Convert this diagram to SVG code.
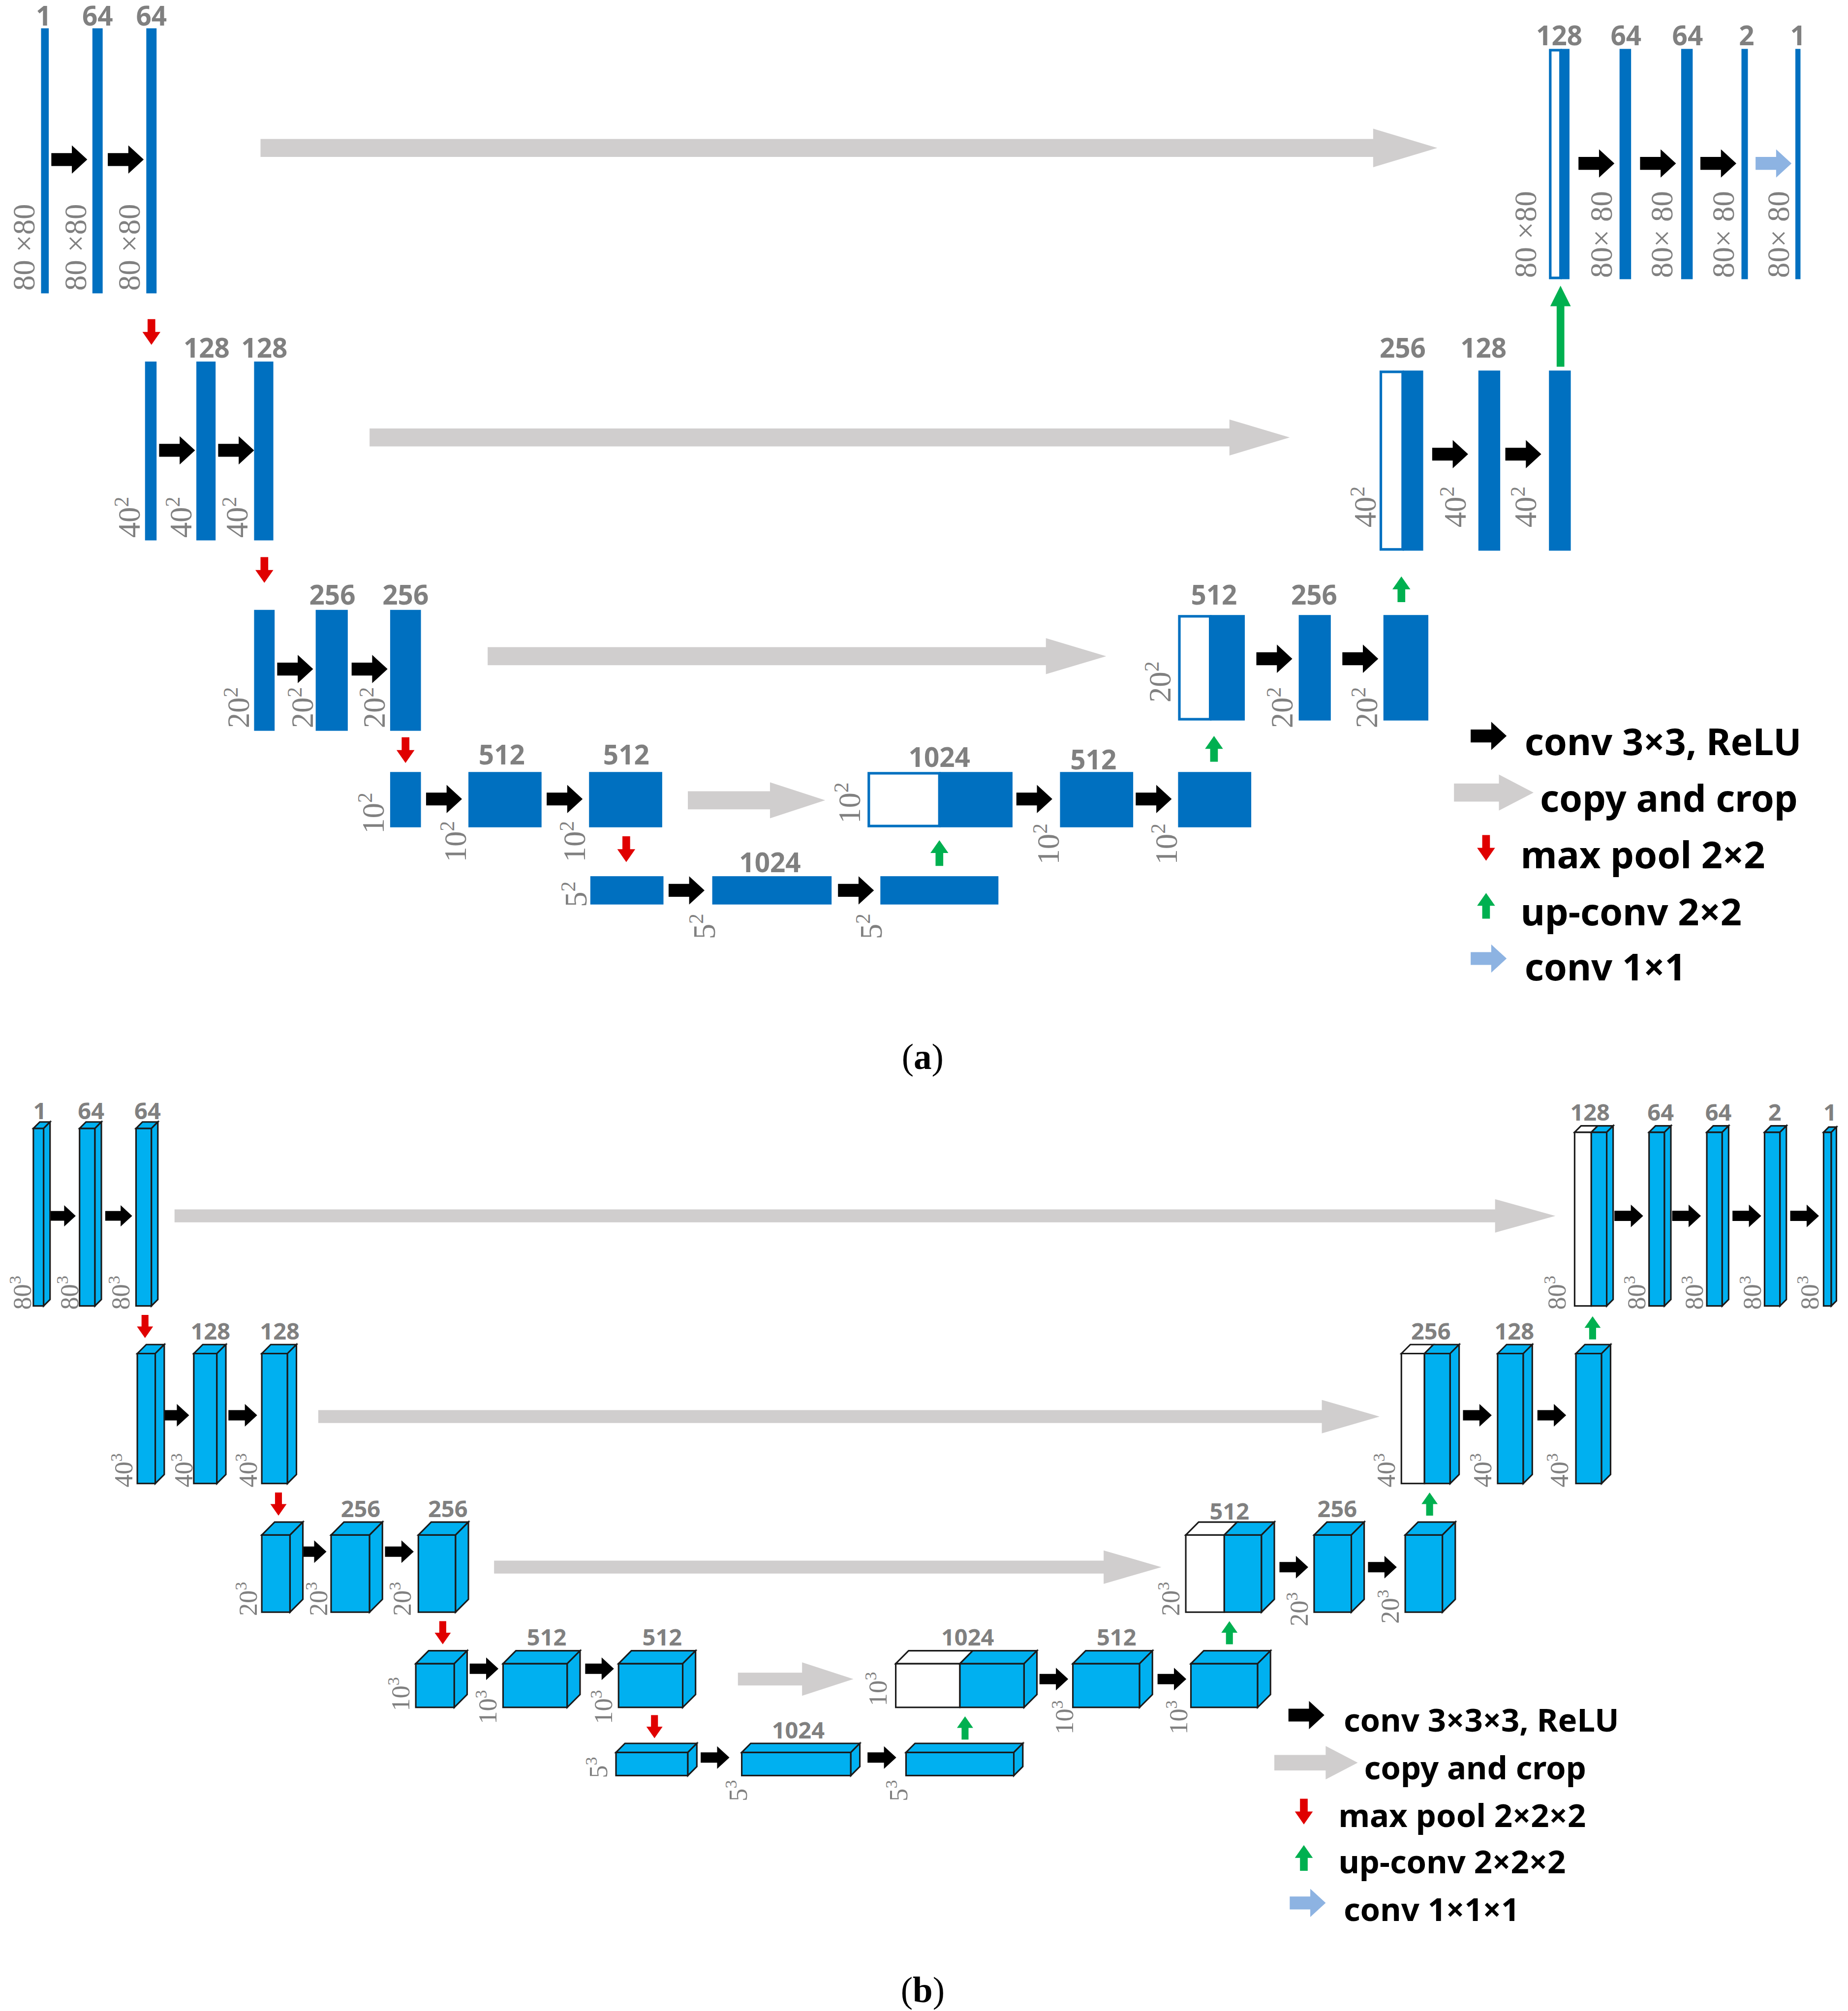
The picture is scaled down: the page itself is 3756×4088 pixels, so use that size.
<svg xmlns="http://www.w3.org/2000/svg" xmlns:xlink="http://www.w3.org/1999/xlink" width="3756" height="4088" viewBox="0 0 3756 4088">
<style>
.a{fill:#0070c0}
.w{fill:#fff;stroke:#0070c0;stroke-width:2}
.n{font-family:"Noto Sans","DejaVu Sans",sans-serif;font-weight:bold;fill:#808080;font-size:21px;text-anchor:middle}
.nb{font-family:"Noto Sans","DejaVu Sans",sans-serif;font-weight:bold;fill:#808080;font-size:18px;text-anchor:middle}
.r{font-family:"Liberation Serif",serif;fill:#808080;font-size:24px}
.rb{font-family:"Liberation Serif",serif;fill:#808080;font-size:20px}
.lg{font-family:"Noto Sans","DejaVu Sans",sans-serif;font-weight:bold;fill:#000;font-size:29px}
.lgb{font-family:"Noto Sans","DejaVu Sans",sans-serif;font-weight:bold;fill:#000;font-size:25px}
.cap{font-family:"Liberation Serif",serif;font-size:28px;fill:#000;text-anchor:middle}
.cp{fill:#d0cece}
.bx path,.bx rect{stroke:#1a1a1a;stroke-width:1.2}
.bf{fill:#00b0f0}
.wf{fill:#fff}
</style>
<defs>
<path id="ba" d="M0,-5H16V-11L28,0L16,11V5H0Z" fill="#000"/>
<path id="la" d="M0,-5H16V-11L28,0L16,11V5H0Z" fill="#8db3e2"/>
<path id="rd" d="M-3,0H3V10H7L0,20L-7,10H-3Z" fill="#e00000"/>
<path id="gu" d="M-3,0H3V-10H7L0,-20L-7,-10H-3Z" fill="#00b050"/>
</defs>
<rect width="3756" height="4088" fill="#fff"/>
<g transform="scale(2.6083,2.6155)">
<g id="connectors">
<path class="cp" d="M203,108H1070V100L1120,115L1070,130V122H203Z"/>
<path class="cp" d="M288,333H958V326L1005,340L958,354V347H288Z"/>
<path class="cp" d="M380,503H815V496L862,510L815,524V517H380Z"/>
<path class="cp" d="M536,615H600V608L643,622L600,636V629H536Z"/>
<use href="#ba" x="40" y="124"/><use href="#ba" x="84" y="124"/>
<use href="#ba" x="124" y="350"/><use href="#ba" x="170" y="350"/>
<use href="#ba" x="216" y="520"/><use href="#ba" x="274" y="520"/>
<use href="#ba" x="332" y="621"/><use href="#ba" x="426" y="621"/>
<use href="#ba" x="521" y="692"/><use href="#ba" x="653" y="692"/>
<use href="#ba" x="792" y="621"/><use href="#ba" x="885" y="621"/>
<use href="#ba" x="979" y="512"/><use href="#ba" x="1046" y="512"/>
<use href="#ba" x="1116" y="353"/><use href="#ba" x="1173" y="353"/>
<use href="#ba" x="1230" y="127"/><use href="#ba" x="1278" y="127"/><use href="#ba" x="1325" y="127"/>
<use href="#la" x="1368" y="127"/>
<use href="#rd" x="118" y="248"/><use href="#rd" x="206" y="433"/><use href="#rd" x="316" y="573"/><use href="#rd" x="488" y="650"/>
<use href="#gu" x="732" y="673"/><use href="#gu" x="946" y="592"/><use href="#gu" x="1092" y="468"/>
<path d="M1213,285H1219V238H1224L1216,222L1208,238H1213Z" fill="#00b050"/>
<path class="cp" d="M136,940H1165V932L1212,945L1165,958V950H136Z"/>
<path class="cp" d="M248,1096H1030V1088L1075,1101L1030,1114V1106H248Z"/>
<path class="cp" d="M385,1213H860V1205L905,1218L860,1231V1223H385Z"/>
<path class="cp" d="M575,1300H625V1292L665,1305L625,1318V1310H575Z"/>
<g transform="translate(38,945) scale(0.75)"><use href="#ba"/></g>
<g transform="translate(82,945) scale(0.75)"><use href="#ba"/></g>
<g transform="translate(125,1100) scale(0.8)"><use href="#ba"/></g>
<g transform="translate(178,1100) scale(0.8)"><use href="#ba"/></g>
<g transform="translate(232,1206) scale(0.8)"><use href="#ba"/></g>
<g transform="translate(300,1206) scale(0.8)"><use href="#ba"/></g>
<g transform="translate(366,1297) scale(0.8)"><use href="#ba"/></g>
<g transform="translate(456,1297) scale(0.8)"><use href="#ba"/></g>
<g transform="translate(546,1366) scale(0.8)"><use href="#ba"/></g>
<g transform="translate(676,1366) scale(0.8)"><use href="#ba"/></g>
<g transform="translate(810,1305) scale(0.8)"><use href="#ba"/></g>
<g transform="translate(902,1305) scale(0.8)"><use href="#ba"/></g>
<g transform="translate(997,1218) scale(0.8)"><use href="#ba"/></g>
<g transform="translate(1066,1218) scale(0.8)"><use href="#ba"/></g>
<g transform="translate(1140,1100) scale(0.8)"><use href="#ba"/></g>
<g transform="translate(1198,1100) scale(0.8)"><use href="#ba"/></g>
<g transform="translate(1258,945) scale(0.8)"><use href="#ba"/></g>
<g transform="translate(1303,945) scale(0.8)"><use href="#ba"/></g>
<g transform="translate(1350,945) scale(0.8)"><use href="#ba"/></g>
<g transform="translate(1395,945) scale(0.8)"><use href="#ba"/></g>
<g transform="translate(113,1022) scale(0.9)"><use href="#rd"/></g>
<g transform="translate(217,1160) scale(0.9)"><use href="#rd"/></g>
<g transform="translate(345,1260) scale(0.9)"><use href="#rd"/></g>
<g transform="translate(510,1333) scale(0.9)"><use href="#rd"/></g>
<g transform="translate(752,1352) scale(0.9)"><use href="#gu"/></g>
<g transform="translate(958,1278) scale(0.9)"><use href="#gu"/></g>
<g transform="translate(1114,1178) scale(0.9)"><use href="#gu"/></g>
<g transform="translate(1241,1041) scale(0.9)"><use href="#gu"/></g>
</g>
<g id="a_enc1">
<rect class="a" x="32" y="22" width="6" height="206"/><rect class="a" x="72" y="22" width="8" height="206"/><rect class="a" x="114" y="22" width="8" height="206"/>
<text class="n" x="34" y="20">1</text><text class="n" x="76" y="20">64</text><text class="n" x="118" y="20">64</text>
<text class="r" transform="translate(27,226) rotate(-90)">80 ×80</text>
<text class="r" transform="translate(67,226) rotate(-90)">80 ×80</text>
<text class="r" transform="translate(109,226) rotate(-90)">80 ×80</text>
</g>
<g id="a_enc2">
<rect class="a" x="113" y="281" width="9" height="139"/><rect class="a" x="153" y="281" width="15" height="139"/><rect class="a" x="198" y="281" width="15" height="139"/>
<text class="n" x="161" y="278">128</text><text class="n" x="206" y="278">128</text>
<text class="r" transform="translate(109,418) rotate(-90)">40<tspan dy="-9" font-size="16">2</tspan></text>
<text class="r" transform="translate(149,418) rotate(-90)">40<tspan dy="-9" font-size="16">2</tspan></text>
<text class="r" transform="translate(193,418) rotate(-90)">40<tspan dy="-9" font-size="16">2</tspan></text>
</g>
<g id="a_enc3">
<rect class="a" x="198" y="474" width="16" height="94"/><rect class="a" x="246" y="474" width="25" height="94"/><rect class="a" x="304" y="474" width="24" height="94"/>
<text class="n" x="259" y="470">256</text><text class="n" x="316" y="470">256</text>
<text class="r" transform="translate(194,566) rotate(-90)">20<tspan dy="-9" font-size="16">2</tspan></text>
<text class="r" transform="translate(244,566) rotate(-90)">20<tspan dy="-9" font-size="16">2</tspan></text>
<text class="r" transform="translate(300,566) rotate(-90)">20<tspan dy="-9" font-size="16">2</tspan></text>
</g>
<g id="a_enc4">
<rect class="a" x="304" y="600" width="24" height="43"/><rect class="a" x="365" y="600" width="57" height="43"/><rect class="a" x="459" y="600" width="57" height="43"/>
<text class="n" x="391" y="594">512</text><text class="n" x="488" y="594">512</text>
<text class="r" transform="translate(299,648) rotate(-90)">10<tspan dy="-9" font-size="16">2</tspan></text>
<text class="r" transform="translate(363,670) rotate(-90)">10<tspan dy="-9" font-size="16">2</tspan></text>
<text class="r" transform="translate(456,670) rotate(-90)">10<tspan dy="-9" font-size="16">2</tspan></text>
</g>
<g id="a_bottom">
<rect class="a" x="460" y="681" width="57" height="22"/><rect class="a" x="555" y="681" width="93" height="22"/><rect class="a" x="686" y="681" width="92" height="22"/>
<text class="n" x="600" y="678">1024</text>
<text class="r" transform="translate(457,705) rotate(-90)">5<tspan dy="-9" font-size="16">2</tspan></text>
<text class="r" transform="translate(557,730) rotate(-90)">5<tspan dy="-9" font-size="16">2</tspan></text>
<text class="r" transform="translate(687,730) rotate(-90)">5<tspan dy="-9" font-size="16">2</tspan></text>
</g>
<g id="a_dec4">
<rect class="w" x="677" y="601" width="55" height="41"/><rect class="a" x="732" y="600" width="57" height="43"/>
<rect class="a" x="826" y="600" width="57" height="43"/><rect class="a" x="918" y="600" width="57" height="43"/>
<text class="n" x="732" y="596">1024</text><text class="n" x="852" y="598">512</text>
<text class="r" transform="translate(670,640) rotate(-90)">10<tspan dy="-9" font-size="16">2</tspan></text>
<text class="r" transform="translate(825,672) rotate(-90)">10<tspan dy="-9" font-size="16">2</tspan></text>
<text class="r" transform="translate(917,672) rotate(-90)">10<tspan dy="-9" font-size="16">2</tspan></text>
</g>
<g id="a_dec3">
<rect class="w" x="919" y="479" width="24" height="80"/><rect class="a" x="943" y="478" width="27" height="82"/>
<rect class="a" x="1012" y="478" width="25" height="82"/><rect class="a" x="1078" y="478" width="35" height="82"/>
<text class="n" x="946" y="470">512</text><text class="n" x="1024" y="470">256</text>
<text class="r" transform="translate(912,546) rotate(-90)">20<tspan dy="-9" font-size="16">2</tspan></text>
<text class="r" transform="translate(1007,566) rotate(-90)">20<tspan dy="-9" font-size="16">2</tspan></text>
<text class="r" transform="translate(1073,566) rotate(-90)">20<tspan dy="-9" font-size="16">2</tspan></text>
</g>
<g id="a_dec2">
<rect class="w" x="1076" y="289" width="17" height="138"/><rect class="a" x="1093" y="288" width="16" height="140"/>
<rect class="a" x="1152" y="288" width="17" height="140"/><rect class="a" x="1207" y="288" width="17" height="140"/>
<text class="n" x="1093" y="278">256</text><text class="n" x="1156" y="278">128</text>
<text class="r" transform="translate(1072,410) rotate(-90)">40<tspan dy="-9" font-size="16">2</tspan></text>
<text class="r" transform="translate(1142,410) rotate(-90)">40<tspan dy="-9" font-size="16">2</tspan></text>
<text class="r" transform="translate(1197,410) rotate(-90)">40<tspan dy="-9" font-size="16">2</tspan></text>
</g>
<g id="a_dec1">
<rect class="w" x="1208" y="39" width="8" height="177"/><rect class="a" x="1216" y="38" width="7" height="179"/>
<rect class="a" x="1262" y="38" width="9" height="179"/><rect class="a" x="1310" y="38" width="9" height="179"/>
<rect class="a" x="1357" y="38" width="5" height="179"/><rect class="a" x="1399" y="38" width="4" height="179"/>
<text class="n" x="1215" y="35">128</text><text class="n" x="1267" y="35">64</text><text class="n" x="1315" y="35">64</text><text class="n" x="1361" y="35">2</text><text class="n" x="1401" y="35">1</text>
<text class="r" transform="translate(1197,216) rotate(-90)">80 ×80</text>
<text class="r" transform="translate(1256,216) rotate(-90)">80× 80</text>
<text class="r" transform="translate(1303,216) rotate(-90)">80× 80</text>
<text class="r" transform="translate(1351,216) rotate(-90)">80× 80</text>
<text class="r" transform="translate(1394,216) rotate(-90)">80× 80</text>
</g>
<g id="a_legend">
<use href="#ba" x="1146" y="572"/><text class="lg" x="1188" y="587">conv 3×3, ReLU</text>
<path class="cp" d="M1133,609H1168V602L1195,616L1168,630V623H1133Z"/><text class="lg" x="1200" y="631">copy and crop</text>
<use href="#rd" x="1158" y="649"/><text class="lg" x="1185" y="675">max pool 2×2</text>
<use href="#gu" x="1158" y="714"/><text class="lg" x="1185" y="719">up-conv 2×2</text>
<use href="#la" x="1146" y="745"/><text class="lg" x="1188" y="762">conv 1×1</text>
</g>
<text class="cap" x="719" y="831">(<tspan font-weight="bold">a</tspan>)</text>
<g id="b_enc1" class="bx">
<rect class="bf" x="26" y="877" width="8" height="138"/><path class="bf" d="M26,877l5,-5h8l-5,5z"/><path class="bf" d="M34,877l5,-5v138l-5,5z"/>
<rect class="bf" x="62" y="877" width="12" height="138"/><path class="bf" d="M62,877l5,-5h12l-5,5z"/><path class="bf" d="M74,877l5,-5v138l-5,5z"/>
<rect class="bf" x="106" y="877" width="12" height="138"/><path class="bf" d="M106,877l5,-5h12l-5,5z"/><path class="bf" d="M118,877l5,-5v138l-5,5z"/>
</g>
<g id="b_enc1_t">
<text class="nb" x="31" y="870">1</text><text class="nb" x="71" y="870">64</text><text class="nb" x="115" y="870">64</text>
<text class="rb" transform="translate(24,1018) rotate(-90)">80<tspan dy="-8" font-size="13">3</tspan></text>
<text class="rb" transform="translate(61,1018) rotate(-90)">80<tspan dy="-8" font-size="13">3</tspan></text>
<text class="rb" transform="translate(101,1018) rotate(-90)">80<tspan dy="-8" font-size="13">3</tspan></text>
</g>
<g id="b_dec1" class="bx">
<rect class="wf" x="1227" y="880" width="13" height="135"/><path class="wf" d="M1227,880l5,-5h13l-5,5z"/>
<rect class="bf" x="1240" y="880" width="12" height="135"/><path class="bf" d="M1240,880l5,-5h12l-5,5z"/><path class="bf" d="M1252,880l5,-5v135l-5,5z"/>
<rect class="bf" x="1285" y="880" width="12" height="135"/><path class="bf" d="M1285,880l5,-5h12l-5,5z"/><path class="bf" d="M1297,880l5,-5v135l-5,5z"/>
<rect class="bf" x="1330" y="880" width="12" height="135"/><path class="bf" d="M1330,880l5,-5h12l-5,5z"/><path class="bf" d="M1342,880l5,-5v135l-5,5z"/>
<rect class="bf" x="1375" y="880" width="12" height="135"/><path class="bf" d="M1375,880l5,-5h12l-5,5z"/><path class="bf" d="M1387,880l5,-5v135l-5,5z"/>
<rect class="bf" x="1421" y="880" width="6" height="135"/><path class="bf" d="M1421,880l4,-4h6l-4,4z"/><path class="bf" d="M1427,880l4,-4v135l-4,4z"/>
</g>
<g id="b_dec1_t">
<text class="nb" x="1239" y="871">128</text><text class="nb" x="1294" y="871">64</text><text class="nb" x="1339" y="871">64</text><text class="nb" x="1383" y="871">2</text><text class="nb" x="1426" y="871">1</text>
<text class="rb" transform="translate(1220,1018) rotate(-90)">80<tspan dy="-8" font-size="13">3</tspan></text>
<text class="rb" transform="translate(1282,1018) rotate(-90)">80<tspan dy="-8" font-size="13">3</tspan></text>
<text class="rb" transform="translate(1327,1018) rotate(-90)">80<tspan dy="-8" font-size="13">3</tspan></text>
<text class="rb" transform="translate(1372,1018) rotate(-90)">80<tspan dy="-8" font-size="13">3</tspan></text>
<text class="rb" transform="translate(1417,1018) rotate(-90)">80<tspan dy="-8" font-size="13">3</tspan></text>
</g>
<g id="b_enc2" class="bx">
<rect class="bf" x="107" y="1052" width="14" height="101"/><path class="bf" d="M107,1052l7,-7h14l-7,7z"/><path class="bf" d="M121,1052l7,-7v101l-7,7z"/>
<rect class="bf" x="151" y="1052" width="18" height="101"/><path class="bf" d="M151,1052l7,-7h18l-7,7z"/><path class="bf" d="M169,1052l7,-7v101l-7,7z"/>
<rect class="bf" x="204" y="1052" width="20" height="101"/><path class="bf" d="M204,1052l7,-7h20l-7,7z"/><path class="bf" d="M224,1052l7,-7v101l-7,7z"/>
</g>
<g id="b_enc2_t">
<text class="nb" x="164" y="1041">128</text><text class="nb" x="218" y="1041">128</text>
<text class="rb" transform="translate(103,1156) rotate(-90)">40<tspan dy="-8" font-size="13">3</tspan></text>
<text class="rb" transform="translate(150,1156) rotate(-90)">40<tspan dy="-8" font-size="13">3</tspan></text>
<text class="rb" transform="translate(200,1156) rotate(-90)">40<tspan dy="-8" font-size="13">3</tspan></text>
</g>
<g id="b_dec2" class="bx">
<rect class="wf" x="1092" y="1052" width="18" height="101"/><path class="wf" d="M1092,1052l7,-7h18l-7,7z"/>
<rect class="bf" x="1110" y="1052" width="20" height="101"/><path class="bf" d="M1110,1052l7,-7h20l-7,7z"/><path class="bf" d="M1130,1052l7,-7v101l-7,7z"/>
<rect class="bf" x="1167" y="1052" width="20" height="101"/><path class="bf" d="M1167,1052l7,-7h20l-7,7z"/><path class="bf" d="M1187,1052l7,-7v101l-7,7z"/>
<rect class="bf" x="1228" y="1052" width="20" height="101"/><path class="bf" d="M1228,1052l7,-7h20l-7,7z"/><path class="bf" d="M1248,1052l7,-7v101l-7,7z"/>
</g>
<g id="b_dec2_t">
<text class="nb" x="1115" y="1041">256</text><text class="nb" x="1180" y="1041">128</text>
<text class="rb" transform="translate(1087,1156) rotate(-90)">40<tspan dy="-8" font-size="13">3</tspan></text>
<text class="rb" transform="translate(1162,1156) rotate(-90)">40<tspan dy="-8" font-size="13">3</tspan></text>
<text class="rb" transform="translate(1222,1156) rotate(-90)">40<tspan dy="-8" font-size="13">3</tspan></text>
</g>
<g id="b_enc3" class="bx">
<rect class="bf" x="204" y="1193" width="22" height="60"/><path class="bf" d="M204,1193l10,-10h22l-10,10z"/><path class="bf" d="M226,1193l10,-10v60l-10,10z"/>
<rect class="bf" x="258" y="1193" width="30" height="60"/><path class="bf" d="M258,1193l10,-10h30l-10,10z"/><path class="bf" d="M288,1193l10,-10v60l-10,10z"/>
<rect class="bf" x="326" y="1193" width="29" height="60"/><path class="bf" d="M326,1193l10,-10h29l-10,10z"/><path class="bf" d="M355,1193l10,-10v60l-10,10z"/>
</g>
<g id="b_enc3_t">
<text class="nb" x="281" y="1179">256</text><text class="nb" x="349" y="1179">256</text>
<text class="rb" transform="translate(200,1256) rotate(-90)">20<tspan dy="-8" font-size="13">3</tspan></text>
<text class="rb" transform="translate(255,1256) rotate(-90)">20<tspan dy="-8" font-size="13">3</tspan></text>
<text class="rb" transform="translate(320,1256) rotate(-90)">20<tspan dy="-8" font-size="13">3</tspan></text>
</g>
<g id="b_dec3" class="bx">
<rect class="wf" x="924" y="1193" width="30" height="60"/><path class="wf" d="M924,1193l10,-10h30l-10,10z"/>
<rect class="bf" x="954" y="1193" width="29" height="60"/><path class="bf" d="M954,1193l10,-10h29l-10,10z"/><path class="bf" d="M983,1193l10,-10v60l-10,10z"/>
<rect class="bf" x="1024" y="1193" width="29" height="60"/><path class="bf" d="M1024,1193l10,-10h29l-10,10z"/><path class="bf" d="M1053,1193l10,-10v60l-10,10z"/>
<rect class="bf" x="1095" y="1193" width="29" height="60"/><path class="bf" d="M1095,1193l10,-10h29l-10,10z"/><path class="bf" d="M1124,1193l10,-10v60l-10,10z"/>
</g>
<g id="b_dec3_t">
<text class="nb" x="958" y="1181">512</text><text class="nb" x="1042" y="1179">256</text>
<text class="rb" transform="translate(919,1256) rotate(-90)">20<tspan dy="-8" font-size="13">3</tspan></text>
<text class="rb" transform="translate(1019,1264) rotate(-90)">20<tspan dy="-8" font-size="13">3</tspan></text>
<text class="rb" transform="translate(1090,1262) rotate(-90)">20<tspan dy="-8" font-size="13">3</tspan></text>
</g>
<g id="b_enc4" class="bx">
<rect class="bf" x="324" y="1293" width="30" height="34"/><path class="bf" d="M324,1293l10,-10h30l-10,10z"/><path class="bf" d="M354,1293l10,-10v34l-10,10z"/>
<rect class="bf" x="392" y="1293" width="50" height="34"/><path class="bf" d="M392,1293l10,-10h50l-10,10z"/><path class="bf" d="M442,1293l10,-10v34l-10,10z"/>
<rect class="bf" x="482" y="1293" width="50" height="34"/><path class="bf" d="M482,1293l10,-10h50l-10,10z"/><path class="bf" d="M532,1293l10,-10v34l-10,10z"/>
</g>
<g id="b_enc4_t">
<text class="nb" x="426" y="1279">512</text><text class="nb" x="516" y="1279">512</text>
<text class="rb" transform="translate(319,1330) rotate(-90)">10<tspan dy="-8" font-size="13">3</tspan></text>
<text class="rb" transform="translate(387,1340) rotate(-90)">10<tspan dy="-8" font-size="13">3</tspan></text>
<text class="rb" transform="translate(477,1340) rotate(-90)">10<tspan dy="-8" font-size="13">3</tspan></text>
</g>
<g id="b_dec4" class="bx">
<rect class="wf" x="698" y="1293" width="50" height="34"/><path class="wf" d="M698,1293l10,-10h50l-10,10z"/>
<rect class="bf" x="748" y="1293" width="50" height="34"/><path class="bf" d="M748,1293l10,-10h50l-10,10z"/><path class="bf" d="M798,1293l10,-10v34l-10,10z"/>
<rect class="bf" x="836" y="1293" width="52" height="34"/><path class="bf" d="M836,1293l10,-10h52l-10,10z"/><path class="bf" d="M888,1293l10,-10v34l-10,10z"/>
<rect class="bf" x="928" y="1293" width="52" height="34"/><path class="bf" d="M928,1293l10,-10h52l-10,10z"/><path class="bf" d="M980,1293l10,-10v34l-10,10z"/>
</g>
<g id="b_dec4_t">
<text class="nb" x="754" y="1279">1024</text><text class="nb" x="870" y="1279">512</text>
<text class="rb" transform="translate(691,1326) rotate(-90)">10<tspan dy="-8" font-size="13">3</tspan></text>
<text class="rb" transform="translate(836,1348) rotate(-90)">10<tspan dy="-8" font-size="13">3</tspan></text>
<text class="rb" transform="translate(925,1348) rotate(-90)">10<tspan dy="-8" font-size="13">3</tspan></text>
</g>
<g id="b_bottom" class="bx">
<rect class="bf" x="480" y="1362" width="56" height="18"/><path class="bf" d="M480,1362l7,-7h56l-7,7z"/><path class="bf" d="M536,1362l7,-7v18l-7,7z"/>
<rect class="bf" x="578" y="1362" width="85" height="18"/><path class="bf" d="M578,1362l7,-7h85l-7,7z"/><path class="bf" d="M663,1362l7,-7v18l-7,7z"/>
<rect class="bf" x="706" y="1362" width="84" height="18"/><path class="bf" d="M706,1362l7,-7h84l-7,7z"/><path class="bf" d="M790,1362l7,-7v18l-7,7z"/>
</g>
<g id="b_bottom_t">
<text class="nb" x="622" y="1351">1024</text>
<text class="rb" transform="translate(473,1382) rotate(-90)">5<tspan dy="-8" font-size="13">3</tspan></text>
<text class="rb" transform="translate(582,1400) rotate(-90)">5<tspan dy="-8" font-size="13">3</tspan></text>
<text class="rb" transform="translate(707,1400) rotate(-90)">5<tspan dy="-8" font-size="13">3</tspan></text>
</g>
<g id="b_legend">
<use href="#ba" x="1004" y="1333"/><text class="lgb" x="1047" y="1346">conv 3×3×3, ReLU</text>
<path class="cp" d="M993,1364H1033V1357L1058,1370L1033,1383V1376H993Z"/><text class="lgb" x="1063" y="1383">copy and crop</text>
<use href="#rd" x="1016" y="1398"/><text class="lgb" x="1043" y="1420">max pool 2×2×2</text>
<use href="#gu" x="1016" y="1454"/><text class="lgb" x="1043" y="1456">up-conv 2×2×2</text>
<use href="#la" x="1005" y="1479"/><text class="lgb" x="1047" y="1493">conv 1×1×1</text>
</g>
<text class="cap" x="719" y="1556">(<tspan font-weight="bold">b</tspan>)</text>
</g>
</svg>
